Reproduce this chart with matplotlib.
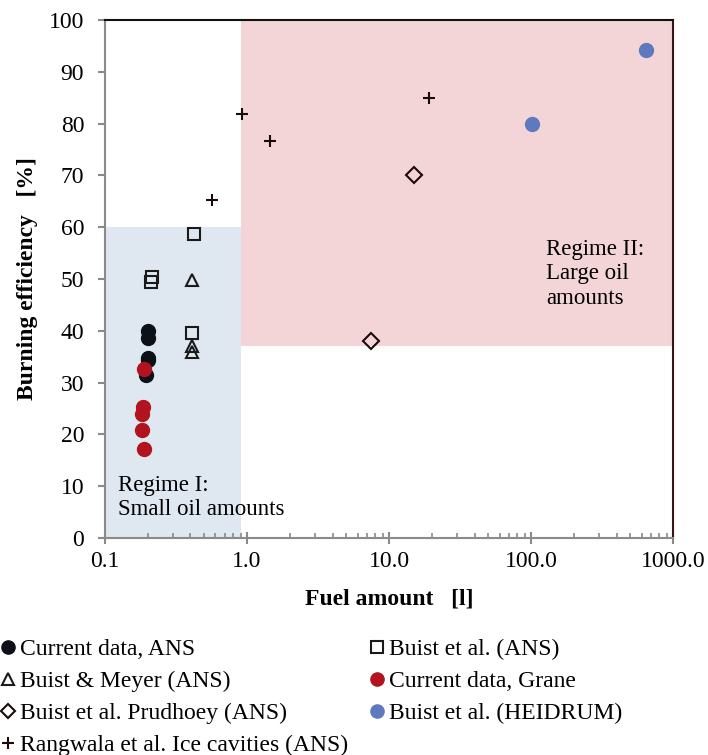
import matplotlib
matplotlib.use("Agg")
import matplotlib.pyplot as plt
from matplotlib.patches import Rectangle
from matplotlib.ticker import FixedLocator, LogLocator, NullFormatter, FixedFormatter

plt.rcParams['font.family'] = ['Liberation Serif', 'DejaVu Serif']

# ---- data ----
cur_ans_x = [0.20, 0.20, 0.20, 0.20, 0.195]
cur_ans_y = [40.0, 38.6, 34.8, 34.4, 31.5]

cur_grane_x = [0.189, 0.184, 0.182, 0.182, 0.187]
cur_grane_y = [32.6, 25.3, 24.0, 20.9, 17.2]

buist_ans_x = [0.21, 0.215, 0.42, 0.41]
buist_ans_y = [49.5, 50.4, 58.7, 39.6]

meyer_x = [0.41, 0.41, 0.41]
meyer_y = [49.8, 37.0, 35.9]

prudhoey_x = [15.0, 7.5]
prudhoey_y = [70.0, 38.0]

rangwala_x = [0.57, 0.92, 1.45, 19.2]
rangwala_y = [65.3, 81.8, 76.7, 85.0]

heidrum_x = [102.0, 640.0]
heidrum_y = [80.0, 94.2]

regime1 = (0.1, 0.9, 0, 60)    # x0, x1, y0, y1
regime2 = (0.9, 1000, 37, 100)

x_ticks = [0.1, 1, 10, 100, 1000]
x_ticklabels = ["0.1", "1.0", "10.0", "100.0", "1000.0"]
y_ticks = list(range(0, 101, 10))

fig = plt.figure(figsize=(7.08, 7.55), dpi=100)
ax = fig.add_axes([0.1483, 0.2874, 0.9506 - 0.1483, 0.9735 - 0.2874])
ax.set_xscale('log')
ax.set_xlim(0.1, 1000)
ax.set_ylim(0, 100)

ax.add_patch(Rectangle((regime1[0], regime1[2]), regime1[1] - regime1[0], regime1[3] - regime1[2],
                       facecolor='#dfe7f0', edgecolor='none', zorder=0))
ax.add_patch(Rectangle((regime2[0], regime2[2]), regime2[1] - regime2[0], regime2[3] - regime2[2],
                       facecolor='#f4d5d7', edgecolor='none', zorder=0))

h1, = ax.plot(cur_ans_x, cur_ans_y, 'o', color='#0c1118', markersize=10, linestyle='none', label='Current data, ANS', zorder=3)
h2, = ax.plot(buist_ans_x, buist_ans_y, 's', mfc='none', mec='#1a1a1a', mew=1.5, markersize=9, linestyle='none', label='Buist et al. (ANS)', zorder=3)
h3, = ax.plot(meyer_x, meyer_y, '^', mfc='none', mec='#1a1a1a', mew=1.5, markersize=9, linestyle='none', label='Buist & Meyer (ANS)', zorder=3)
h4, = ax.plot(cur_grane_x, cur_grane_y, 'o', color='#b2131f', markersize=10, linestyle='none', label='Current data, Grane', zorder=4)
h5, = ax.plot(prudhoey_x, prudhoey_y, 'D', mfc='none', mec='#1a0a0a', mew=1.5, markersize=8, linestyle='none', label='Buist et al. Prudhoey (ANS)', zorder=3)
h6, = ax.plot(heidrum_x, heidrum_y, 'o', color='#5e79bd', markersize=10, linestyle='none', label='Buist et al. (HEIDRUM)', zorder=3)
h7, = ax.plot(rangwala_x, rangwala_y, '+', color='#1a0a0a', mew=1.5, markersize=9, linestyle='none', label='Rangwala et al. Ice cavities (ANS)', zorder=3)

ax.text(0.1235, 12.2, "Regime I:\nSmall oil amounts", fontsize=16.5, va='top', ha='left', linespacing=1.2)
ax.text(127, 57.7, "Regime II:\nLarge oil\namounts", fontsize=16.5, va='top', ha='left', linespacing=1.2)

for s in ['left', 'bottom']:
    ax.spines[s].set_color('#8a8a8a')
    ax.spines[s].set_linewidth(1.5)
ax.spines['top'].set_color('#111111')
ax.spines['top'].set_linewidth(1.5)
ax.spines['right'].set_color('#3a1414')
ax.spines['right'].set_linewidth(1.5)

ax.xaxis.set_major_locator(FixedLocator(x_ticks))
ax.xaxis.set_major_formatter(FixedFormatter(x_ticklabels))
ax.xaxis.set_minor_locator(LogLocator(base=10, subs=range(2, 10)))
ax.xaxis.set_minor_formatter(NullFormatter())
ax.set_yticks(y_ticks)
ax.tick_params(axis='x', which='major', direction='inout', length=9, width=1.5, color='#8a8a8a', labelsize=17, pad=5)
ax.tick_params(axis='x', which='minor', direction='in', length=3.6, width=1.2, color='#8a8a8a')
ax.tick_params(axis='y', which='major', direction='out', length=5, width=1.5, color='#8a8a8a', labelsize=17, pad=10)
ax.tick_params(top=False, right=False)

ax.set_xlabel("Fuel amount   [l]", fontsize=17, fontweight='bold', labelpad=12)
ax.set_ylabel("Burning efficiency   [%]", fontsize=17, fontweight='bold', labelpad=7.5)

handles = [h1, h3, h5, h7, h2, h4, h6]
leg = fig.legend(handles=handles, labels=[h.get_label() for h in handles], ncol=2,
                 loc='upper left', bbox_to_anchor=(0.001, 0.154), frameon=False,
                 fontsize=17, markerscale=0.95, handlelength=0.6, handletextpad=0.2,
                 columnspacing=0.95, labelspacing=0.44, borderaxespad=0, borderpad=0)

fig.savefig("out.png", dpi=100)
